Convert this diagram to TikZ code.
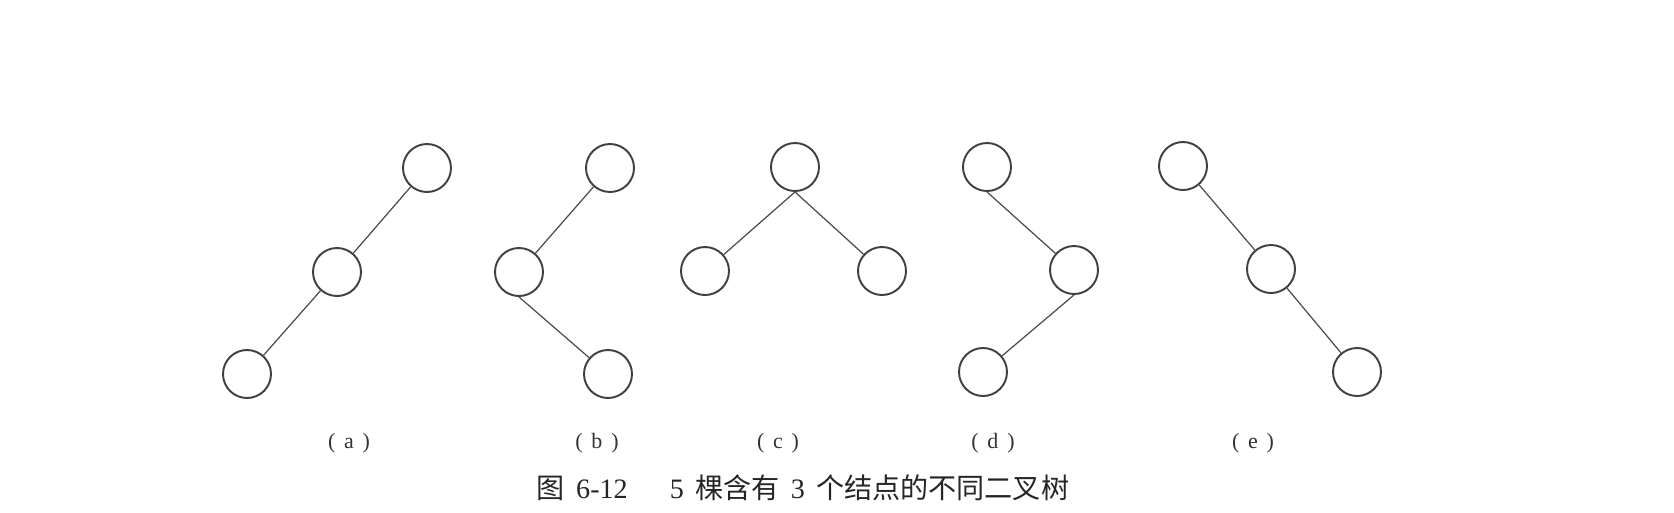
\documentclass[tikz,border=0pt]{standalone}
\usepackage{fontspec}
\setmainfont{Liberation Serif}
\newfontfamily\cjk{Noto Sans CJK SC}
\usepackage{xcolor}
\usepackage{tikz}

\tikzset{
    vtx/.style={circle, draw=black!75, line width=1.1pt, fill=white, minimum size=0.96cm, inner sep=0pt},
    edge/.style={draw=black!70, line width=0.7pt},
    sublabel/.style={font=\fontsize{12.5}{15}\selectfont, text=black!80, inner sep=0pt},
    captext/.style={font=\fontsize{16}{19}\selectfont, text=black!85, inner sep=0pt}
}

\begin{document}
\begin{tikzpicture}[x=0.02cm, y=-0.02cm]
    \path[use as bounding box, fill=white] (0,0) rectangle (1674,512);
    % (a)
    \node[vtx] (a1) at (427,168) {};
    \node[vtx] (a2) at (337,272) {};
    \node[vtx] (a3) at (247,374) {};
    \draw[edge] (a1) -- (a2);
    \draw[edge] (a2) -- (a3);
    % (b)
    \node[vtx] (b1) at (610,168) {};
    \node[vtx] (b2) at (519,272) {};
    \node[vtx] (b3) at (608,374) {};
    \draw[edge] (b1) -- (b2);
    \draw[edge] (b2.south) -- (b3);
    % (c)
    \node[vtx] (c1) at (795,167) {};
    \node[vtx] (c2) at (705,271) {};
    \node[vtx] (c3) at (882,271) {};
    \draw[edge] (c1.south) -- (c2);
    \draw[edge] (c1.south) -- (c3);
    % (d)
    \node[vtx] (d1) at (987,167) {};
    \node[vtx] (d2) at (1074,270) {};
    \node[vtx] (d3) at (983,372) {};
    \draw[edge] (d1.south) -- (d2);
    \draw[edge] (d2.south) -- (d3);
    % (e)
    \node[vtx] (e1) at (1183,166) {};
    \node[vtx] (e2) at (1271,269) {};
    \node[vtx] (e3) at (1357,372) {};
    \draw[edge] (e1) -- (e2);
    \draw[edge] (e2) -- (e3);
    % labels
    \foreach \x/\t in {349/a, 597/b, 778/c, 993/d, 1253/e}
    \node[sublabel] (lab\t) at (\x,443) {(\hspace{0.4em}\t\hspace{0.4em})};
    \node[captext] (cap) at (803,488) {{\cjk 图}\hspace{0.4em}6-12\hspace{1.5em}5\hspace{0.4em}{\cjk 棵含有}\hspace{0.4em}3\hspace{0.4em}{\cjk 个结点的不同二叉树}};
\end{tikzpicture}
\end{document}
